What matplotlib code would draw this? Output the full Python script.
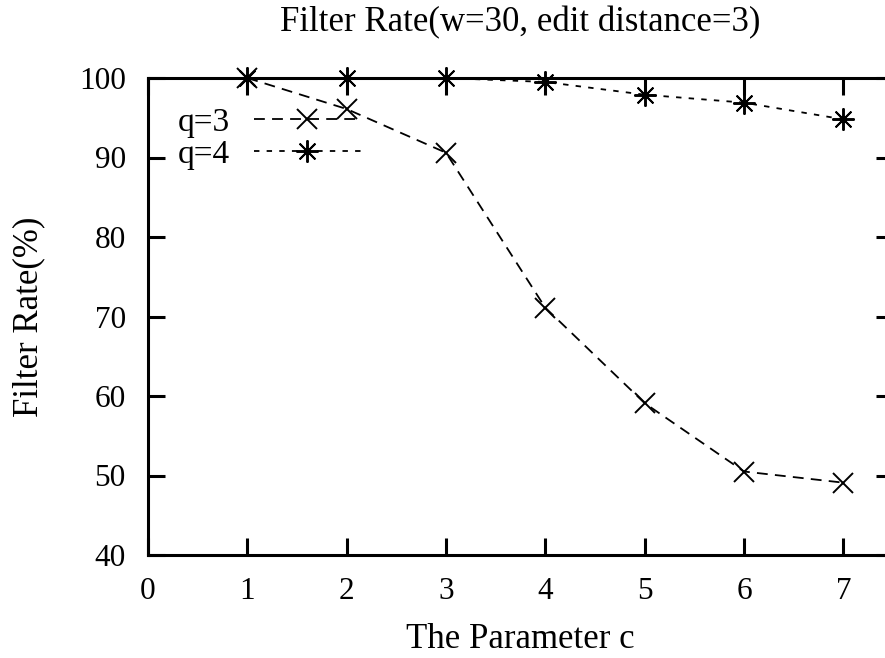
import matplotlib
matplotlib.use("Agg")
import matplotlib.pyplot as plt

c_values = [1, 2, 3, 4, 5, 6, 7]
q3_rate = [100.0, 96.1, 90.6, 71.1, 59.1, 50.5, 49.1]
q4_rate = [100.0, 100.0, 100.0, 99.5, 97.9, 96.9, 94.8]
series_labels = ["q=3", "q=4"]
x_ticks = [0, 1, 2, 3, 4, 5, 6, 7]
y_ticks = [40, 50, 60, 70, 80, 90, 100]

plt.rcParams['font.family'] = ['Liberation Serif', 'DejaVu Serif']
fs_lab = 25
fs_tick = 22.5
fs_leg = 24

fig = plt.figure(figsize=(8.85, 6.58), dpi=100)
L, R, T, B = 148, 893, 78, 555
W, H = R - L, B - T
ax = fig.add_axes([L / 885, 1 - B / 658, W / 885, H / 658])

ax.plot(c_values, q3_rate, color='black', lw=1.3, dashes=(6, 4),
        marker='x', ms=14, mew=1.4, label=series_labels[0], clip_on=False)
ax.plot(c_values, q4_rate, color='black', lw=1.3, dashes=(3, 4),
        marker=(8, 2, 0), ms=16, mew=1.4, label=series_labels[1], clip_on=False)

ax.set_xlim(0, 7.5)
ax.set_ylim(40, 100)
ax.set_xticks(x_ticks)
ax.set_yticks(y_ticks)
ax.tick_params(direction='in', length=12, width=2.2, top=True, right=True,
               labelsize=fs_tick, pad=16)
for s in ax.spines.values():
    s.set_linewidth(2.2)

xl = ax.set_xlabel("The Parameter c", fontsize=fs_lab)
xl.set_va('center')
ax.xaxis.set_label_coords(0.5, -(640 - B) / H)
yl = ax.set_ylabel("Filter Rate(%)", fontsize=fs_lab)
yl.set_va('center')
ax.yaxis.set_label_coords(-(L - 29) / W, 0.5)
fig.text((L + R) / 2 / 885, 1 - 23 / 658, "Filter Rate(w=30, edit distance=3)",
         fontsize=fs_lab, ha='center', va='center')

leg = ax.legend(loc='upper left', bbox_to_anchor=((178 - L) / W, (B - 107) / H),
                markerfirst=False, frameon=False, fontsize=fs_leg,
                handlelength=3.2, handletextpad=0.72, labelspacing=0.06,
                borderaxespad=0, borderpad=0)

fig.savefig("out.png", dpi=100)
